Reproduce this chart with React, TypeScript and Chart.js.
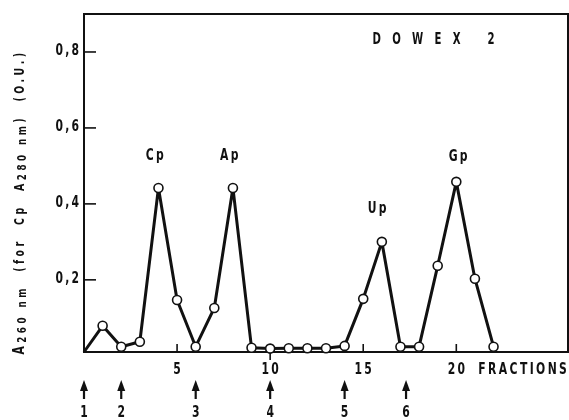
import React, { useEffect, useRef } from "react";
import { Chart, registerables } from "chart.js";

Chart.register(...registerables);

// ---- data ----
const fractions = [0, 1, 2, 3, 4, 5, 6, 7, 8, 9, 10, 11, 12, 13, 14, 15, 16, 17, 18, 19, 20, 21, 22];
const absorbance = [0.01, 0.079, 0.024, 0.037, 0.442, 0.147, 0.024, 0.126, 0.442, 0.021, 0.019, 0.02, 0.02, 0.02, 0.026, 0.15, 0.3, 0.024, 0.024, 0.237, 0.458, 0.203, 0.024];

const xTickValues = [5, 10, 15, 20];
const xTickLabels = ["5", "10", "15", "20"];
const xTickUp = [true, false, true, true];
const xAxisTitle = "FRACTIONS";

const yTickValues = [0.2, 0.4, 0.6, 0.8];
const yTickLabels = ["0,2", "0,4", "0,6", "0,8"];

const peakNames = ["Cp", "Ap", "Up", "Gp"];
const peakX = [3.8, 7.8, 15.75, 20.1];
const peakY = [0.526, 0.526, 0.387, 0.524];

const arrowFractions = [0, 2, 6, 10, 14, 17.3];
const arrowLabels = ["1", "2", "3", "4", "5", "6"];

const resinName = "DOWEX";
const resinNumber = "2";
const resinX = 15.5;
const resinY = 0.83;

const FONT = "'DejaVu Sans Condensed', 'DejaVu Sans', sans-serif";
const INK = "#111";
const SQUEEZE = 0.75;

function spaced(ctx: CanvasRenderingContext2D, text: string, x: number, y: number, spacing: number, align: "left" | "center" | "right") {
  ctx.save();
  (ctx as any).letterSpacing = spacing + "px";
  const w = (ctx.measureText(text).width - spacing) * SQUEEZE;
  let sx = x;
  if (align === "center") sx = x - w / 2;
  else if (align === "right") sx = x - w;
  ctx.textAlign = "left";
  ctx.translate(sx, y);
  ctx.scale(SQUEEZE, 1);
  ctx.fillText(text, 0, 0);
  ctx.restore();
}

const decorPlugin = {
  id: "decor",
  beforeDatasetsDraw(chart: any) {
    const ctx: CanvasRenderingContext2D = chart.ctx;
    const { left, top, right, bottom } = chart.chartArea;
    const xs = chart.scales.x;
    const ys = chart.scales.y;
    ctx.save();
    ctx.strokeStyle = INK;
    ctx.lineWidth = 2;
    ctx.beginPath();
    ctx.moveTo(left, bottom);
    ctx.lineTo(left, top);
    ctx.lineTo(right, top);
    ctx.lineTo(right, bottom);
    ctx.closePath();
    ctx.stroke();
    ctx.lineWidth = 1.6;
    yTickValues.forEach((v) => {
      const y = ys.getPixelForValue(v);
      ctx.beginPath();
      ctx.moveTo(left, y);
      ctx.lineTo(left + 12, y);
      ctx.stroke();
    });
    xTickValues.forEach((v, i) => {
      const x = xs.getPixelForValue(v);
      ctx.beginPath();
      ctx.moveTo(x, bottom);
      ctx.lineTo(x, xTickUp[i] ? bottom - 8 : bottom + 8);
      ctx.stroke();
    });
    ctx.restore();
  },
  afterDraw(chart: any) {
    const ctx: CanvasRenderingContext2D = chart.ctx;
    const { left, bottom } = chart.chartArea;
    const xs = chart.scales.x;
    const ys = chart.scales.y;
    ctx.save();
    ctx.fillStyle = INK;
    ctx.strokeStyle = INK;
    ctx.textBaseline = "middle";

    ctx.font = `bold 16px ${FONT}`;
    yTickValues.forEach((v, i) => {
      spaced(ctx, yTickLabels[i], left - 5, ys.getPixelForValue(v) - 1, 3, "right");
    });

    xTickValues.forEach((v, i) => {
      spaced(ctx, xTickLabels[i], xs.getPixelForValue(v), bottom + 18, 3, "center");
    });
    spaced(ctx, xAxisTitle, xs.getPixelForValue(20) + 22, bottom + 18, 3.2, "left");

    peakNames.forEach((n, i) => {
      spaced(ctx, n, xs.getPixelForValue(peakX[i]), ys.getPixelForValue(peakY[i]), 3, "center");
    });

    ctx.font = `bold 15px ${FONT}`;
    spaced(ctx, resinName, xs.getPixelForValue(resinX), ys.getPixelForValue(resinY), 15, "left");
    spaced(ctx, resinNumber, xs.getPixelForValue(resinX) + 122, ys.getPixelForValue(resinY), 0, "right");

    ctx.font = `bold 16px ${FONT}`;
    ctx.lineWidth = 2.2;
    arrowFractions.forEach((f, i) => {
      const x = xs.getPixelForValue(f);
      ctx.beginPath();
      ctx.moveTo(x, 380);
      ctx.lineTo(x - 4, 391);
      ctx.lineTo(x + 4, 391);
      ctx.closePath();
      ctx.fill();
      ctx.beginPath();
      ctx.moveTo(x, 388);
      ctx.lineTo(x, 399);
      ctx.stroke();
      spaced(ctx, arrowLabels[i], x, 413, 0, "center");
    });

    // y axis title (rotated, with subscripts)
    const segs = [
      { t: "A", s: 16, dy: 0 },
      { t: "260 nm", s: 13, dy: 3 },
      { t: "  (for  Cp  A", s: 14, dy: 0 },
      { t: "280 nm", s: 13, dy: 3 },
      { t: ")  (O.U.)", s: 14, dy: 0 },
    ];
    const sp = 4.6;
    ctx.translate(20, 202);
    ctx.rotate(-Math.PI / 2);
    ctx.scale(SQUEEZE, 1);
    ctx.textAlign = "left";
    (ctx as any).letterSpacing = sp + "px";
    let total = 0;
    const widths = segs.map((g) => {
      ctx.font = `bold ${g.s}px ${FONT}`;
      const w = ctx.measureText(g.t).width;
      total += w;
      return w;
    });
    let cx = -total / 2;
    segs.forEach((g, i) => {
      ctx.font = `bold ${g.s}px ${FONT}`;
      ctx.fillText(g.t, cx, g.dy);
      cx += widths[i];
    });
    (ctx as any).letterSpacing = "0px";
    ctx.restore();
  },
};

export default function App() {
  const ref = useRef<HTMLCanvasElement>(null);
  useEffect(() => {
    if (!ref.current) return;
    const chart = new Chart(ref.current, {
      type: "line",
      data: {
        datasets: [
          {
            data: fractions.map((f, i) => ({ x: f, y: absorbance[i] })),
            borderColor: INK,
            borderWidth: 3,
            borderJoinStyle: "bevel",
            pointRadius: (c: any) => (c.dataIndex === 0 ? 0 : 4.5),
            pointBackgroundColor: "#fff",
            pointBorderColor: INK,
            pointBorderWidth: 1.6,
            tension: 0,
            clip: false as any,
          },
        ],
      },
      options: {
        responsive: false,
        animation: false,
        devicePixelRatio: 1,
        layout: { autoPadding: false, padding: { left: 84, top: 14, right: 1, bottom: 68 } },
        plugins: { legend: { display: false }, tooltip: { enabled: false } },
        scales: {
          x: { type: "linear", min: 0, max: 26, display: false },
          y: { type: "linear", min: 0.01, max: 0.9, display: false },
        },
      },
      plugins: [decorPlugin],
    });
    return () => chart.destroy();
  }, []);
  return (
    <div style={{ position: "fixed", left: 0, top: 0, width: 569, height: 420, background: "#fff" }}>
      <canvas ref={ref} width={569} height={420} />
    </div>
  );
}
